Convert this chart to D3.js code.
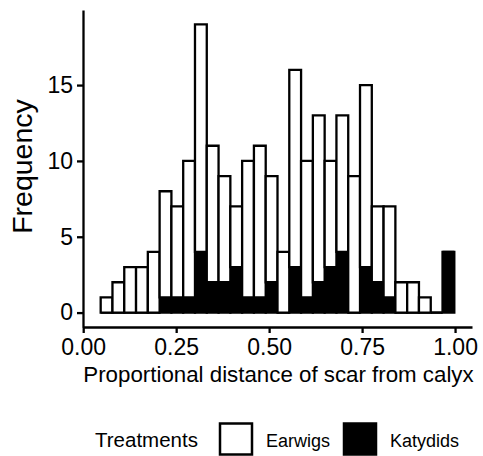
<!DOCTYPE html>
<html>
<head>
<meta charset="utf-8">
<script src="https://cdn.jsdelivr.net/npm/d3@7"></script>
<style>
  body { margin: 0; background: #fff; }
  text { font-family: "Liberation Sans", Arial, sans-serif; fill: #000; }
</style>
</head>
<body>
<div id="chart"></div>
<script>
// Histogram bins (30 bins, ggplot default)
const binStart = 0.047;
const binWidth = 0.0317;
const treatments = ['Earwigs', 'Katydids'];
const earwigs  = [1, 2, 3, 3, 4, 7, 6, 9, 15, 9, 7, 4, 9, 10, 7, 4, 13, 9, 11, 7, 9, 9, 12, 5, 6, 2, 2, 1, 0, 0];
const katydids = [0, 0, 0, 0, 0, 1, 1, 1, 4, 2, 2, 3, 1, 1, 2, 0, 3, 1, 2, 3, 4, 0, 3, 2, 1, 0, 0, 0, 0, 4];
const xTicks = [0, 0.25, 0.5, 0.75, 1];
const yTicks = [0, 5, 10, 15];

const W = 483, H = 456;
const panel = { left: 83, right: 472, top: 10, bottom: 327 };

const bins = earwigs.map((e, i) => ({
    x0: binStart + i * binWidth,
    x1: binStart + (i + 1) * binWidth,
    Earwigs: e,
    Katydids: katydids[i]
}));

const svg = d3.select('#chart').append('svg')
    .attr('width', W)
    .attr('height', H);

// ggplot-style 5% expansion
const xMin = bins[0].x0, xMax = bins[bins.length - 1].x1;
const xPad = (xMax - xMin) * 0.05;
const x = d3.scaleLinear()
    .domain([xMin - xPad, xMax + xPad])
    .range([panel.left, panel.right]);

const yMax = d3.max(bins, d => d.Earwigs + d.Katydids);
const y = d3.scaleLinear()
    .domain([-yMax * 0.05, yMax * 1.05])
    .range([panel.bottom, panel.top]);

// Katydids at the bottom, Earwigs stacked on top
const stacked = d3.stack().keys(['Katydids', 'Earwigs'])(bins);
const fills = { Earwigs: '#fff', Katydids: '#000' };

svg.selectAll('.layer')
    .data(stacked)
    .enter()
    .append('g')
    .attr('class', 'layer')
    .attr('fill', d => fills[d.key])
    .selectAll('path')
    .data(d => d)
    .enter()
    .append('path')
    .attr('d', d => {
        const x0 = x(d.data.x0), x1 = x(d.data.x1);
        const y0 = y(d[0]), y1 = y(d[1]);
        return `M${x0},${y0}H${x1}V${y1}H${x0}Z`;
    })
    .attr('stroke', '#000')
    .attr('stroke-width', 2.3);

// Axes
const xAxis = svg.append('g')
    .attr('transform', `translate(0,${panel.bottom})`)
    .call(d3.axisBottom(x).tickValues(xTicks).tickFormat(d3.format('.2f'))
        .tickSizeInner(6).tickSizeOuter(0).tickPadding(6));

const yAxis = svg.append('g')
    .attr('transform', `translate(${panel.left},0)`)
    .call(d3.axisLeft(y).tickValues(yTicks).tickSizeInner(6).tickSizeOuter(0).tickPadding(4));

[xAxis, yAxis].forEach(a => {
    a.select('.domain').attr('stroke', '#000').attr('stroke-width', 2.3);
    a.selectAll('.tick line').attr('stroke', '#000').attr('stroke-width', 2.3);
    a.selectAll('.tick text').attr('fill', '#000').style('font-size', '23px');
});

// Axis titles
svg.append('text')
    .attr('x', (panel.left + panel.right) / 2 + 1)
    .attr('y', 382)
    .attr('text-anchor', 'middle')
    .style('font-size', '22.3px')
    .text('Proportional distance of scar from calyx');

svg.append('text')
    .attr('transform', `translate(32,${(panel.top + panel.bottom) / 2 - 2}) rotate(-90)`)
    .attr('text-anchor', 'middle')
    .style('font-size', '28.5px')
    .text('Frequency');

// Legend
const legend = svg.append('g');
legend.append('text')
    .attr('x', 95)
    .attr('y', 446.5)
    .style('font-size', '20.5px')
    .text('Treatments');

const keyX = [220, 344];
treatments.forEach((t, i) => {
    legend.append('rect')
        .attr('x', keyX[i])
        .attr('y', 423.5)
        .attr('width', 32)
        .attr('height', 31)
        .attr('fill', fills[t])
        .attr('stroke', '#000')
        .attr('stroke-width', 2.5);
    legend.append('text')
        .attr('x', keyX[i] + 46)
        .attr('y', 446.5)
        .style('font-size', '18px')
        .text(t);
});
</script>
</body>
</html>
